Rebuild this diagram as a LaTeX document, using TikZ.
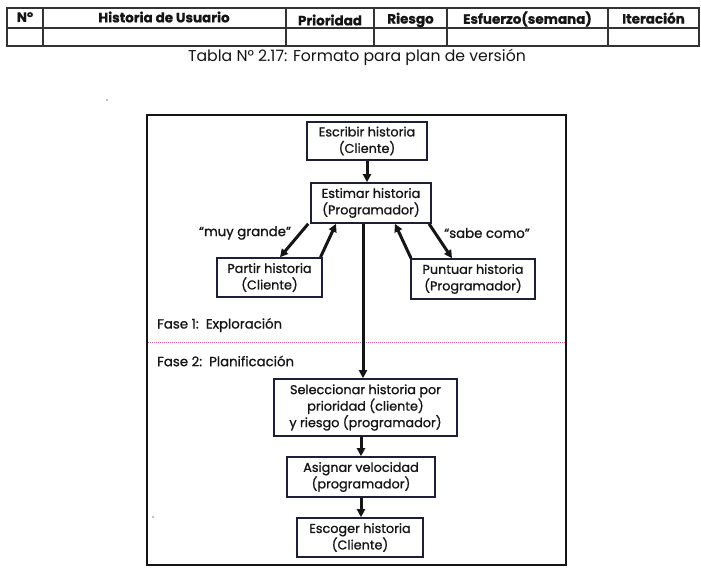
\documentclass[tikz,border=0pt]{standalone}
\usepackage{fontspec}
\setmainfont{Poppins}
\newfontfamily\diagfont[FakeBold=1]{Poppins}
\newfontfamily\hdrfont[BoldFeatures={FakeBold=0.8}]{Poppins}
\usetikzlibrary{arrows.meta}
\definecolor{ink}{HTML}{151515}
\definecolor{boxc}{HTML}{1E1E36}
\definecolor{tabc}{HTML}{333333}
\definecolor{pinkdot}{RGB}{215,90,190}
\tikzset{
  stepbox/.style={draw=boxc, line width=1.6pt, align=center, inner sep=0pt,
    font=\diagfont\fontsize{12.8}{16.5}\selectfont, text=ink},
  hdr/.style={font=\hdrfont\bfseries\fontsize{13.5}{15}\selectfont, text=ink, inner sep=0pt},
  lbl/.style={font=\diagfont\fontsize{13.3}{15}\selectfont, text=ink, inner sep=0pt},
  flow/.style={line width=3pt, draw=ink, -{Triangle[length=8pt,width=8pt]}},
  tline/.style={draw=tabc, line width=1.1pt}
}
\begin{document}
\begin{tikzpicture}[x=1pt,y=-1pt]
\useasboundingbox (0,0) rectangle (701,584);
\fill[white] (0,0) rectangle (701,584);

% ---- table ----
\draw[tline] (7,8) rectangle (699,46);
\draw[tline] (7,28) -- (699,28);
\foreach \x in {43,286,374,447,608} \draw[tline] (\x,8) -- (\x,46);
\node[hdr] (hN) at (25,17) {N°};
\node[hdr] (hH) at (164,17) {Historia de Usuario};
\node[hdr] (hP) at (330,20) {Prioridad};
\node[hdr] (hR) at (410.5,20) {Riesgo};
\node[hdr] (hE) at (527.5,19) {Esfuerzo(semana)};
\node[hdr] (hI) at (653.5,18) {Iteración};
\node[font=\fontsize{15.7}{18}\selectfont, text=ink, inner sep=0pt] (cap) at (357,57) {Tabla N° 2.17: Formato para plan de versión};

% scan specks
\fill[gray] (107,100) circle (0.9);
\fill[gray] (153,517) circle (0.9);

% ---- frame ----
\node[draw=ink, line width=1.4pt, minimum width=419pt, minimum height=450pt, inner sep=0pt] (frame) at (356.5,340) {};
\coordinate (d1) at (148,342);
\coordinate (d2) at (565,342);
\draw[pinkdot, line width=1pt, densely dotted] (d1) -- (d2);

% ---- boxes ----
\node[stepbox, minimum width=120pt, minimum height=38pt] (escr) at (367,141) {Escribir historia\\(Cliente)};
\node[stepbox, minimum width=120pt, minimum height=40pt] (est) at (371,203) {Estimar historia\\(Programador)};
\node[stepbox, minimum width=105pt, minimum height=39pt] (part) at (269.5,277.5) {Partir historia\\(Cliente)};
\node[stepbox, minimum width=124pt, minimum height=40pt] (punt) at (473,279) {Puntuar historia\\(Programador)};
\node[stepbox, minimum width=183pt, minimum height=57pt] (sel) at (365.5,407.5) {Seleccionar historia por\\prioridad (cliente)\\y riesgo (programador)};
\node[stepbox, minimum width=148pt, minimum height=40pt] (asig) at (361,477) {Asignar velocidad\\(programador)};
\node[stepbox, minimum width=126pt, minimum height=39pt] (esco) at (360,537.5) {Escoger historia\\(Cliente)};

% ---- labels ----
\node[lbl] (muy) at (245,233) {“muy grande”};
\node[lbl] (sabe) at (487,233) {“sabe como”};
\node[lbl, anchor=west] (f1) at (157,325) {Fase 1:\ \ Exploración};
\node[lbl, anchor=west] (f2) at (157,361) {Fase 2:\ \ Planificación};

% ---- connectors ----
\draw[flow] (escr.south) -- (escr.south |- est.north);
\draw[flow] ([xshift=-2pt]est.south west) -- ([xshift=10.5pt]part.north);
\draw[flow] ([xshift=51pt]part.north) -- ([xshift=-35pt]est.south);
\draw[flow] ([xshift=58pt]est.south) -- ([xshift=-21pt]punt.north);
\draw[flow] ([xshift=-62pt]punt.north) -- ([xshift=24pt]est.south);
\draw[flow] ([xshift=-8pt]est.south) -- ([xshift=-2.5pt]sel.north);
\draw[flow] (sel.south -| asig.north) -- (asig.north);
\draw[flow] (asig.south) -- (esco.north -| asig.south);
\end{tikzpicture}
\end{document}
